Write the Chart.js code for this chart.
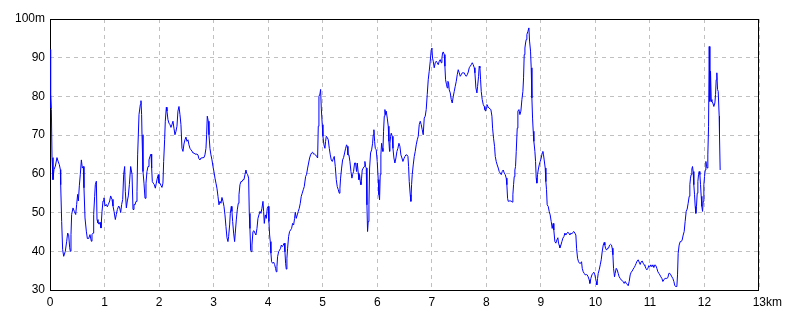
<!DOCTYPE html>
<html>
<head>
<meta charset="utf-8">
<script src="https://cdn.jsdelivr.net/npm/chart.js@4.4.1/dist/chart.umd.min.js"></script>
<style>
body { margin: 0; background: #fff; }
#wrap { width: 800px; height: 320px; }
</style>
</head>
<body>
<div id="wrap"><canvas id="chartCanvas" width="800" height="320"></canvas></div>
<script>
// elevation profile (km / m)
var distA = [0,0.006,0.012,0.018,0.025,0.037,0.055,0.073,0.098,0.128,0.147,0.171,0.190,0.196,0.214,0.232,0.251,0.281,0.306,0.324,0.342,0.361,0.373,0.385,0.397,0.422,0.446,0.471,0.489,0.507,0.520,0.538,0.556,0.575,0.593,0.611,0.623,0.642,0.666,0.685,0.709,0.733,0.758,0.770,0.789,0.801,0.819,0.831,0.850,0.862,0.880,0.899,0.917,0.935,0.954,0.972,0.990,1.009,1.033,1.051,1.070,1.094,1.112,1.137,1.155,1.174,1.198,1.216,1.235,1.259,1.278,1.296,1.314,1.333,1.351,1.369,1.381,1.400,1.418,1.436,1.455,1.479,1.504,1.522,1.540];
var elevA = [92.1,87.4,77.0,80.5,76.6,64.2,58.5,61.1,62.0,64.2,63.3,62.4,61.1,57.2,47.7,40.4,38.7,40.0,42.6,44.7,44.3,40.9,40.0,44.3,49.5,51.2,50.3,49.5,52.1,54.7,53.0,56.9,59.9,63.6,61.5,61.9,56.4,48.6,45.2,43.3,43.3,44.3,42.6,44.3,44.7,49.5,54.2,57.2,58.1,48.2,47.3,47.0,47.5,46.0,50.3,53.0,53.8,51.7,52.1,51.5,52.1,53.0,54.3,53.4,51.7,50.3,48.2,49.5,50.8,51.7,51.2,50.0,52.1,53.4,59.9,61.9,55.5,51.2,53.0,54.3,57.2,61.9,59.9,50.8,52.1];

var distB = [1.558,1.577,1.595,1.607,1.632,1.656,1.668,1.680,1.687,1.705,1.723,1.742,1.760,1.778,1.797,1.815,1.833,1.852,1.864,1.876,1.894,1.913,1.931,1.949,1.968,1.986,1.998,2.016,2.035,2.053,2.071,2.084,2.102,2.114,2.133,2.145,2.163,2.181,2.200,2.218,2.236,2.255,2.273,2.291,2.310,2.328,2.346,2.365,2.383,2.401,2.420,2.438,2.456,2.475,2.493,2.511,2.530,2.548,2.566,2.585,2.603,2.621,2.640,2.658,2.676,2.695,2.713,2.731,2.750,2.768,2.786,2.805,2.823,2.841,2.860,2.872,2.884,2.902,2.915,2.933,2.951,2.970,2.988,3.006,3.025,3.043,3.061,3.080];
var elevB = [52.0,52.9,55.4,64.9,75.3,77.9,78.9,75.3,70.1,60.6,57.6,53.7,57.6,60.6,61.9,63.6,64.5,65.1,61.5,58.0,57.6,57.2,56.3,57.6,58.9,59.8,57.6,57.6,57.0,56.5,57.6,63.2,68.8,73.6,77.2,76.2,74.0,73.1,72.7,72.0,72.7,73.6,71.8,70.1,71.0,72.3,76.2,77.4,75.3,72.7,66.6,65.8,67.7,68.8,69.5,68.4,68.8,67.5,66.6,66.2,65.9,65.4,65.4,65.1,65.1,65.1,64.9,63.9,63.6,64.1,64.1,64.2,64.2,64.9,66.6,70.1,74.9,73.6,70.1,66.6,64.9,63.6,61.9,60.6,58.9,57.6,56.3,54.2];

var distC = [3.098,3.116,3.135,3.153,3.172,3.190,3.208,3.226,3.245,3.263,3.275,3.294,3.306,3.324,3.336,3.349,3.367,3.385,3.397,3.416,3.434,3.452,3.465,3.483,3.501,3.520,3.538,3.556,3.575,3.593,3.605,3.624,3.642,3.654,3.666,3.679,3.691,3.703,3.721,3.740,3.758,3.776,3.795,3.813,3.831,3.850,3.868,3.886,3.905,3.917,3.929,3.948,3.966,3.984,4.002,4.014,4.027,4.039,4.051,4.063,4.082,4.100,4.118,4.136,4.149,4.161,4.173,4.192,4.210,4.228,4.241,4.259,4.277,4.295,4.308,4.320,4.332,4.344,4.357,4.375,4.393,4.412,4.430,4.448,4.467,4.485,4.497,4.515,4.534,4.552,4.570,4.589,4.607,4.625,4.644,4.662];
var elevC = [52.0,52.9,52.4,53.9,52.9,51.6,49.4,46.4,43.5,42.5,43.8,46.8,49.8,51.6,50.3,47.7,44.7,42.5,44.7,48.1,50.7,52.4,54.6,57.2,58.0,58.0,58.5,58.5,59.8,61.0,60.2,59.8,58.9,49.8,45.9,40.3,39.9,41.6,45.1,45.3,44.7,44.2,45.9,48.5,49.4,50.3,49.8,51.1,52.9,50.3,47.2,49.4,48.5,51.1,51.6,47.7,44.2,42.5,39.5,37.3,36.9,37.2,36.6,35.6,34.7,36.0,38.6,39.9,40.3,40.8,41.6,41.2,41.6,42.1,39.9,36.9,35.4,38.2,40.8,43.8,45.1,45.5,45.9,47.2,46.8,48.5,50.1,48.5,49.4,50.3,51.1,52.4,54.2,55.0,55.9,56.7];

var distD = [4.687,4.705,4.724,4.742,4.760,4.778,4.797,4.815,4.833,4.852,4.870,4.888,4.907,4.919,4.931,4.949,4.962,4.974,4.992,5.004,5.023,5.041,5.053,5.066,5.084,5.102,5.121,5.139,5.157,5.176,5.194,5.212,5.231,5.249,5.267,5.286,5.304,5.316,5.328,5.347,5.365,5.383,5.402,5.420,5.438,5.450,5.463,5.481,5.499,5.518,5.536,5.548,5.566,5.585,5.603,5.621,5.634,5.652,5.664,5.676,5.689,5.701,5.713,5.725,5.744,5.762,5.774,5.786,5.799,5.811,5.823,5.835,5.848,5.860,5.878,5.897,5.915,5.927,5.939,5.952,5.964,5.982,6.000,6.018,6.031,6.043,6.055,6.067,6.080,6.092,6.104,6.116,6.129,6.141,6.153,6.165,6.184,6.202,6.214,6.226];
var elevD = [59.3,59.9,61.5,62.8,64.1,64.9,65.4,65.6,65.1,65.1,64.9,64.5,64.1,72.3,80.0,80.6,81.8,77.0,72.7,69.7,67.5,66.6,68.4,69.7,69.4,68.8,66.6,64.9,63.6,63.2,63.9,64.5,61.9,58.5,56.7,55.9,55.0,56.3,58.9,61.5,63.6,64.2,65.4,66.6,67.5,67.1,64.9,64.9,63.2,60.6,58.9,59.8,60.6,62.8,62.8,60.6,62.8,60.2,58.5,59.8,58.0,57.2,58.9,61.0,61.5,61.9,63.2,61.9,61.5,52.0,45.1,47.7,52.0,61.5,65.4,66.2,67.9,70.1,71.4,68.4,66.6,66.2,63.2,58.5,54.6,53.3,59.8,64.9,67.9,66.6,65.8,71.0,74.9,76.6,75.3,76.2,74.4,72.3,68.4,65.8];

var distE = [6.233,6.245,6.257,6.275,6.288,6.306,6.324,6.343,6.361,6.379,6.398,6.416,6.434,6.453,6.471,6.489,6.508,6.526,6.544,6.563,6.575,6.587,6.605,6.617,6.630,6.642,6.660,6.679,6.697,6.715,6.734,6.752,6.770,6.789,6.807,6.825,6.843,6.862,6.880,6.898,6.917,6.935,6.953,6.972,6.990,7.002,7.014,7.027,7.045,7.064,7.082,7.100,7.119,7.137,7.155,7.174,7.186,7.198,7.210,7.229,7.241,7.253,7.271,7.284,7.296,7.308,7.320,7.339,7.357,7.375,7.394,7.412,7.430,7.449,7.467,7.485,7.504,7.522,7.540,7.559,7.577,7.595,7.614,7.632,7.650,7.669,7.687,7.705,7.724,7.742,7.760,7.779];
var elevE = [67.9,69.7,70.5,69.7,66.6,64.1,62.8,64.1,65.8,66.6,67.9,67.1,64.9,64.1,63.2,63.9,64.5,64.9,64.9,64.5,61.9,58.0,54.6,52.9,57.2,59.8,62.3,64.5,65.8,67.5,68.8,69.7,72.7,73.6,72.7,71.4,70.1,74.4,74.9,76.6,80.5,84.3,86.5,89.1,92.1,92.5,89.9,89.1,87.4,88.7,89.1,88.7,88.2,89.1,89.5,88.7,89.9,91.2,91.5,90.8,87.8,84.3,83.0,82.2,83.9,83.5,81.7,80.9,79.2,78.3,80.0,81.3,82.6,83.9,85.6,86.9,86.1,85.2,85.6,86.1,86.1,86.1,85.5,85.2,85.6,86.3,87.4,87.8,88.2,88.7,88.2,87.4];

var distF = [7.791,7.809,7.828,7.840,7.858,7.870,7.883,7.895,7.907,7.925,7.944,7.962,7.974,7.987,7.999,8.011,8.029,8.048,8.066,8.084,8.103,8.115,8.133,8.151,8.164,8.182,8.200,8.219,8.237,8.255,8.274,8.292,8.310,8.329,8.347,8.365,8.377,8.390,8.402,8.420,8.438,8.457,8.475,8.487,8.500,8.512,8.524,8.536,8.549,8.567,8.579,8.598,8.616,8.634,8.653,8.671,8.683,8.695,8.708,8.720,8.732,8.744,8.763,8.781,8.793,8.811,8.823,8.836,8.848,8.860,8.872,8.891,8.903,8.915,8.927,8.939,8.952,8.970,8.988,9.007,9.025,9.037,9.049,9.061,9.080,9.092,9.104,9.116,9.135,9.153,9.171,9.190,9.208,9.226,9.238,9.257,9.275,9.293,9.312,9.324,9.336];
var elevF = [86.1,82.2,80.9,82.6,85.2,87.8,87.4,84.3,81.3,79.2,77.9,77.4,76.6,76.2,77.0,77.9,77.4,77.0,76.8,76.6,74.9,71.8,69.2,67.1,64.5,63.2,62.3,61.5,60.6,60.2,59.8,60.6,61.0,60.2,59.8,58.9,57.2,53.7,52.9,53.0,53.0,53.0,52.7,54.6,57.2,59.3,61.0,61.9,65.8,71.8,76.2,76.6,75.3,76.2,79.2,81.3,84.8,90.8,92.5,93.8,94.7,96.0,96.8,97.7,94.3,91.7,87.4,79.6,74.4,71.0,68.4,65.8,63.2,58.9,57.6,59.8,61.0,62.3,63.2,64.1,65.4,65.8,64.9,63.6,61.5,58.0,55.9,52.0,51.6,50.3,49.4,47.7,45.9,47.2,45.5,42.5,42.1,42.9,43.5,42.1,41.6];

var distG = [9.349,9.368,9.386,9.404,9.423,9.441,9.459,9.478,9.496,9.514,9.533,9.551,9.569,9.587,9.606,9.624,9.642,9.655,9.673,9.691,9.710,9.728,9.746,9.759,9.777,9.795,9.813,9.832,9.850,9.868,9.887,9.899,9.917,9.936,9.954,9.972,9.991,10.003,10.015,10.027,10.040,10.052,10.070,10.089,10.107,10.125,10.144,10.162,10.174,10.186,10.205,10.223,10.241,10.260,10.278,10.296,10.308,10.321,10.333,10.351,10.363,10.382,10.400,10.418,10.437,10.455,10.473,10.492,10.510,10.528,10.547,10.565,10.583,10.602,10.620,10.638,10.657,10.675,10.693,10.712,10.730,10.748,10.767,10.785,10.803,10.822,10.840,10.858,10.877,10.895];
var elevG = [40.9,41.6,42.5,43.4,43.8,44.7,44.2,44.7,44.9,44.7,44.2,44.7,44.5,44.9,45.1,44.7,44.2,40.8,38.2,37.3,36.9,36.9,37.3,35.6,34.7,34.3,33.9,34.0,33.9,33.4,32.6,31.7,33.0,33.9,34.3,34.6,33.9,33.0,32.2,31.3,33.0,34.3,35.2,36.5,37.8,39.9,41.6,42.3,41.6,40.8,40.3,40.8,40.8,41.6,41.8,41.6,40.8,39.1,35.6,33.4,34.3,35.6,35.2,34.3,33.4,33.0,32.6,32.4,32.2,31.7,32.2,31.7,31.5,31.1,32.2,33.9,34.6,34.9,35.4,35.8,36.3,36.9,37.5,37.8,37.2,36.6,37.3,37.5,36.9,36.5];

var distH = [10.907,10.926,10.944,10.962,10.981,10.999,11.017,11.036,11.054,11.072,11.091,11.109,11.127,11.146,11.164,11.182,11.200,11.219,11.237,11.255,11.274,11.292,11.310,11.329,11.347,11.365,11.384,11.402,11.420,11.439,11.457,11.475,11.494,11.506,11.518,11.536,11.555,11.573,11.591,11.610,11.628,11.646,11.665,11.683,11.701,11.720,11.732,11.744,11.756,11.769,11.781,11.793,11.805,11.818,11.830,11.842,11.854,11.867,11.879,11.891,11.903,11.916,11.928,11.940,11.952,11.965,11.977,11.989,12.001,12.014,12.026,12.038,12.050,12.062,12.075,12.087,12.099,12.111,12.124,12.136,12.154,12.172,12.191,12.203,12.215,12.227,12.240,12.252,12.270,12.276,12.288];
var elevH = [36.3,35.6,35.2,35.6,36.3,36.0,36.5,36.0,36.5,35.8,36.5,36.3,35.6,34.7,34.3,33.9,33.4,33.0,32.2,32.6,33.0,33.0,33.0,33.2,34.3,34.3,33.9,33.4,33.0,32.2,31.1,30.9,30.9,33.9,39.5,41.6,42.5,42.5,42.9,44.2,45.1,47.7,50.3,50.9,52.4,54.2,57.2,58.9,59.8,61.3,61.9,60.6,57.2,54.6,51.6,49.8,51.6,55.0,58.0,59.8,60.6,59.8,57.2,54.2,51.6,50.3,52.9,57.2,59.3,61.0,63.2,61.9,61.5,64.9,72.3,92.9,78.7,86.5,79.2,78.6,78.3,77.4,78.3,80.5,84.3,86.1,81.8,81.3,74.9,69.8,61.0];

// axis ranges and tick labels
var xMin = 0, xMax = 13, xStep = 1;
var yMin = 30, yMax = 100, yStep = 10;
var xUnit = 'km';
var yUnit = 'm';

var dist = [].concat(distA, distB, distC, distD, distE, distF, distG, distH);
var elev = [].concat(elevA, elevB, elevC, elevD, elevE, elevF, elevG, elevH);
var points = [];
for (var i = 0; i < dist.length; i++) {
    points.push({ x: dist[i], y: elev[i] });
}

// black frame round the plot area (the library only draws left/bottom)
var frame = {
    id: 'frame',
    beforeDatasetsDraw: function (chart) {
        var a = chart.chartArea;
        var c = chart.ctx;
        c.save();
        c.strokeStyle = '#000';
        c.lineWidth = 1;
        c.strokeRect(Math.round(a.left) + 0.5, Math.round(a.top) + 0.5,
            Math.round(a.right - a.left) - 1, Math.round(a.bottom - a.top));
        c.restore();
    }
};

var ctx = document.getElementById('chartCanvas').getContext('2d');
var myChart = new Chart(ctx, {
    type: 'line',
    data: {
        datasets: [{
            label: 'elevation',
            data: points,
            borderColor: '#0000ff',
            borderWidth: 1,
            pointRadius: 0,
            tension: 0,
            fill: false
        }]
    },
    options: {
        responsive: false,
        animation: false,
        devicePixelRatio: 1,
        layout: { padding: { top: 19, right: 41, left: 0, bottom: 0 } },
        plugins: { legend: { display: false }, tooltip: { enabled: false } },
        scales: {
            x: {
                type: 'linear',
                min: xMin,
                max: xMax,
                afterFit: function (s) { s.height = 30; },
                grid: { color: '#c0c0c0', drawTicks: false },
                border: { display: false, dash: [4, 4] },
                ticks: {
                    stepSize: xStep,
                    autoSkip: false,
                    maxRotation: 0,
                    padding: 5,
                    color: '#000',
                    font: { family: 'Liberation Sans', size: 12 },
                    callback: function (v) {
                        // unit sits after the last number, number stays on its gridline
                        return v === xMax ? '     ' + v + xUnit : '' + v;
                    }
                }
            },
            y: {
                min: yMin,
                max: yMax,
                afterFit: function (s) { s.width = 50; },
                grid: { color: '#c0c0c0', drawTicks: false },
                border: { display: false, dash: [4, 4] },
                ticks: {
                    stepSize: yStep,
                    padding: 5,
                    color: '#000',
                    font: { family: 'Liberation Sans', size: 12 },
                    callback: function (v) {
                        return v === yMax ? v + yUnit : '' + v;
                    }
                }
            }
        }
    },
    plugins: [frame]
});
</script>
</body>
</html>
